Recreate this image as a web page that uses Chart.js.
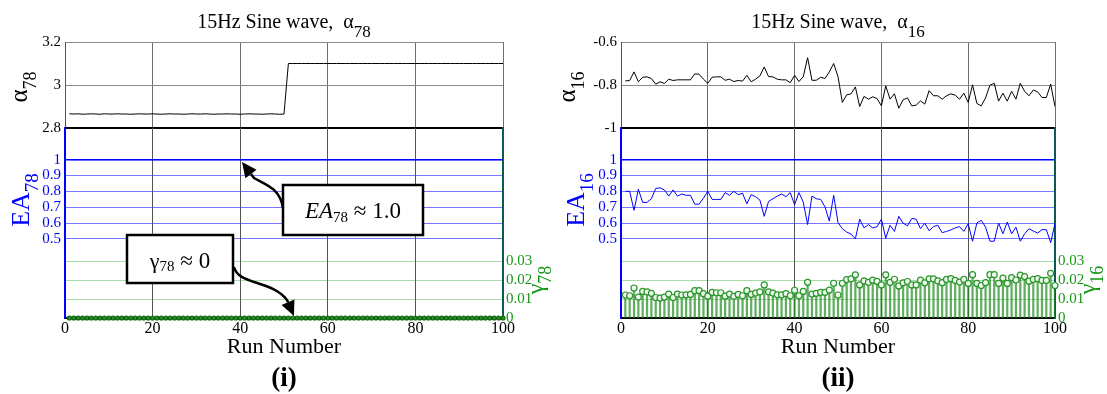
<!DOCTYPE html>
<html>
<head>
<meta charset="utf-8">
<title>15Hz Sine wave</title>
<script src="https://cdn.jsdelivr.net/npm/chart.js@4.4.0/dist/chart.umd.min.js"></script>
<style>
  body { margin: 0; background: #fff; }
  #wrap { position: relative; width: 1107px; height: 394px; overflow: hidden; }
  canvas { position: absolute; }
</style>
</head>
<body>
<div id="wrap">
  <canvas id="topL" width="560" height="140" style="left:0px;top:0px"></canvas>
  <canvas id="botL" width="560" height="274" style="left:0px;top:120px"></canvas>
  <canvas id="topR" width="547" height="140" style="left:560px;top:0px"></canvas>
  <canvas id="botR" width="547" height="274" style="left:560px;top:120px"></canvas>
</div>
<script>
'use strict';

// run numbers 1..100 (x axis)
const runs = Array.from({length: 100}, (_, i) => i + 1);
const xTicks = [0, 20, 40, 60, 80, 100];
const eaTicks = [0.5, 0.6, 0.7, 0.8, 0.9, 1];
const gammaTicks = [0, 0.01, 0.02, 0.03];

// (i) alpha_78
const alpha78Ticks = [2.8, 3, 3.2];
const alpha78 = [
  2.866, 2.865, 2.866, 2.864, 2.865, 2.866, 2.865, 2.864, 2.866, 2.865,
  2.865, 2.866, 2.865, 2.865, 2.864, 2.865, 2.866, 2.865, 2.865, 2.866,
  2.865, 2.864, 2.865, 2.866, 2.865, 2.865, 2.864, 2.865, 2.866, 2.865,
  2.865, 2.866, 2.865, 2.864, 2.865, 2.865, 2.866, 2.865, 2.865, 2.864,
  2.865, 2.866, 2.865, 2.865, 2.864, 2.865, 2.866, 2.865, 2.864, 2.865,
  3.1, 3.1, 3.1, 3.1, 3.1, 3.1, 3.1, 3.1, 3.1, 3.1,
  3.1, 3.1, 3.1, 3.1, 3.1, 3.1, 3.1, 3.1, 3.1, 3.1,
  3.1, 3.1, 3.1, 3.1, 3.1, 3.1, 3.1, 3.1, 3.1, 3.1,
  3.1, 3.1, 3.1, 3.1, 3.1, 3.1, 3.1, 3.1, 3.1, 3.1,
  3.1, 3.1, 3.1, 3.1, 3.1, 3.1, 3.1, 3.1, 3.1, 3.1
];
const ea78 = [
  1, 1, 1, 1, 1, 1, 1, 1, 1, 1,
  1, 1, 1, 1, 1, 1, 1, 1, 1, 1,
  1, 1, 1, 1, 1, 1, 1, 1, 1, 1,
  1, 1, 1, 1, 1, 1, 1, 1, 1, 1,
  1, 1, 1, 1, 1, 1, 1, 1, 1, 1,
  1, 1, 1, 1, 1, 1, 1, 1, 1, 1,
  1, 1, 1, 1, 1, 1, 1, 1, 1, 1,
  1, 1, 1, 1, 1, 1, 1, 1, 1, 1,
  1, 1, 1, 1, 1, 1, 1, 1, 1, 1,
  1, 1, 1, 1, 1, 1, 1, 1, 1, 1
];
const gamma78 = [
  0, 0, 0, 0, 0, 0, 0, 0, 0, 0,
  0, 0, 0, 0, 0, 0, 0, 0, 0, 0,
  0, 0, 0, 0, 0, 0, 0, 0, 0, 0,
  0, 0, 0, 0, 0, 0, 0, 0, 0, 0,
  0, 0, 0, 0, 0, 0, 0, 0, 0, 0,
  0, 0, 0, 0, 0, 0, 0, 0, 0, 0,
  0, 0, 0, 0, 0, 0, 0, 0, 0, 0,
  0, 0, 0, 0, 0, 0, 0, 0, 0, 0,
  0, 0, 0, 0, 0, 0, 0, 0, 0, 0,
  0, 0, 0, 0, 0, 0, 0, 0, 0, 0
];

// (ii) alpha_16
const alpha16Ticks = [-1, -0.8, -0.6];
const alpha16 = [
  -0.781, -0.779, -0.739, -0.785, -0.764, -0.762, -0.770, -0.796, -0.785, -0.793,
  -0.773, -0.779, -0.776, -0.776, -0.776, -0.776, -0.748, -0.750, -0.773, -0.792,
  -0.764, -0.762, -0.762, -0.778, -0.773, -0.784, -0.779, -0.782, -0.755, -0.785,
  -0.773, -0.758, -0.716, -0.761, -0.762, -0.773, -0.776, -0.776, -0.789, -0.755,
  -0.784, -0.761, -0.673, -0.778, -0.778, -0.764, -0.770, -0.739, -0.700, -0.761,
  -0.881, -0.846, -0.841, -0.809, -0.900, -0.853, -0.866, -0.855, -0.863, -0.897,
  -0.804, -0.866, -0.841, -0.908, -0.869, -0.860, -0.897, -0.894, -0.874, -0.889,
  -0.826, -0.850, -0.850, -0.866, -0.850, -0.841, -0.847, -0.866, -0.838, -0.881,
  -0.799, -0.886, -0.897, -0.860, -0.801, -0.792, -0.875, -0.838, -0.875, -0.829,
  -0.866, -0.792, -0.829, -0.850, -0.823, -0.832, -0.858, -0.858, -0.796, -0.900
];
const ea16 = [
  0.800, 0.800, 0.680, 0.813, 0.730, 0.730, 0.753, 0.818, 0.822, 0.809,
  0.770, 0.809, 0.770, 0.783, 0.775, 0.775, 0.719, 0.719, 0.757, 0.800,
  0.749, 0.749, 0.749, 0.792, 0.775, 0.800, 0.779, 0.788, 0.721, 0.779,
  0.766, 0.745, 0.642, 0.736, 0.753, 0.770, 0.783, 0.766, 0.792, 0.715,
  0.792, 0.732, 0.590, 0.770, 0.753, 0.749, 0.702, 0.612, 0.775, 0.603,
  0.564, 0.543, 0.530, 0.500, 0.624, 0.569, 0.590, 0.569, 0.577, 0.624,
  0.504, 0.586, 0.547, 0.642, 0.599, 0.582, 0.629, 0.624, 0.564, 0.599,
  0.551, 0.577, 0.586, 0.539, 0.547, 0.556, 0.569, 0.577, 0.547, 0.596,
  0.485, 0.600, 0.617, 0.574, 0.485, 0.485, 0.600, 0.532, 0.606, 0.532,
  0.574, 0.485, 0.532, 0.564, 0.549, 0.536, 0.558, 0.558, 0.476, 0.596
];
const gamma16 = [
  0.0121, 0.0117, 0.0158, 0.0110, 0.0140, 0.0137, 0.0130, 0.0108, 0.0105, 0.0110,
  0.0126, 0.0108, 0.0126, 0.0121, 0.0122, 0.0124, 0.0144, 0.0144, 0.0128, 0.0115,
  0.0135, 0.0133, 0.0133, 0.0115, 0.0126, 0.0114, 0.0124, 0.0117, 0.0144, 0.0124,
  0.0131, 0.0137, 0.0174, 0.0138, 0.0131, 0.0122, 0.0122, 0.0128, 0.0117, 0.0146,
  0.0117, 0.0140, 0.0188, 0.0126, 0.0130, 0.0135, 0.0135, 0.0147, 0.0183, 0.0121,
  0.0183, 0.0202, 0.0206, 0.0227, 0.0174, 0.0195, 0.0188, 0.0199, 0.0193, 0.0174,
  0.0227, 0.0188, 0.0204, 0.0169, 0.0185, 0.0192, 0.0174, 0.0174, 0.0199, 0.0185,
  0.0206, 0.0206, 0.0195, 0.0186, 0.0203, 0.0207, 0.0198, 0.0189, 0.0203, 0.0182,
  0.0228, 0.0182, 0.0171, 0.0186, 0.0228, 0.0228, 0.0182, 0.0210, 0.0182, 0.0212,
  0.0200, 0.0226, 0.0218, 0.0194, 0.0203, 0.0207, 0.0198, 0.0198, 0.0235, 0.0171
];

const SERIF = '"Liberation Serif", "Times New Roman", serif';
Chart.defaults.font.family = SERIF;

const pts = (ys) => runs.map((r, i) => ({x: r, y: ys[i]}));
const fixTicks = (vals) => (s) => { s.ticks = vals.map(v => ({value: v})); };
const fmt = (v) => String(+Number(v).toFixed(3));

// text with subscripts: parts = [{t, size, dy, italic, bold}]
function rich(ctx, parts, x, y, rot, color) {
  ctx.save();
  ctx.translate(x, y);
  if (rot) ctx.rotate(rot);
  ctx.textBaseline = 'alphabetic';
  ctx.textAlign = 'left';
  ctx.fillStyle = color || '#000';
  const font = p => (p.italic ? 'italic ' : '') + (p.bold ? 'bold ' : '') + p.size + 'px ' + SERIF;
  let w = 0;
  const ws = parts.map(p => { ctx.font = font(p); const m = ctx.measureText(p.t).width; w += m; return m; });
  let cx = -w / 2;
  parts.forEach((p, i) => { ctx.font = font(p); ctx.fillText(p.t, cx, p.dy || 0); cx += ws[i]; });
  ctx.restore();
}

function arrow(ctx, a, tip) {
  ctx.beginPath();
  ctx.moveTo(a[0][0], a[0][1]);
  ctx.bezierCurveTo(a[1][0], a[1][1], a[2][0], a[2][1], a[3][0], a[3][1]);
  const dx = tip[0] - a[3][0], dy = tip[1] - a[3][1];
  const d = Math.hypot(dx, dy), ux = dx / d, uy = dy / d;
  const bx = tip[0] - ux * 15, by = tip[1] - uy * 15;
  ctx.lineTo(bx, by);
  ctx.stroke();
  ctx.beginPath();
  ctx.moveTo(tip[0], tip[1]);
  ctx.lineTo(bx - uy * 7, by + ux * 7);
  ctx.lineTo(bx + uy * 7, by - ux * 7);
  ctx.closePath();
  ctx.fill();
}

function makePanel(o) {
  const topText = {
    id: 'topText',
    afterDraw(chart) {
      const ctx = chart.ctx, ca = chart.chartArea;
      const cx = (ca.left + ca.right) / 2;
      rich(ctx, [{t: '15Hz Sine wave,  \u03b1', size: 20}, {t: o.sub, size: 17, dy: 9}], cx, 28, 0);
      rich(ctx, [{t: '\u03b1', size: 25}, {t: o.sub, size: 18, dy: 9}], ca.left - o.alphaDx, (ca.top + ca.bottom) / 2 + 2, -Math.PI / 2);
    }
  };

  new Chart(document.getElementById(o.topId), {
    type: 'line',
    data: {datasets: [{data: pts(o.alpha), borderColor: '#000', borderWidth: 1, pointRadius: 0}]},
    options: {
      responsive: false, animation: false, events: [],
      layout: {padding: {left: 0, right: o.rightW, top: 42, bottom: 12}},
      plugins: {legend: {display: false}, tooltip: {enabled: false}},
      scales: {
        x: {
          type: 'linear', min: 0, max: 100, afterBuildTicks: fixTicks(xTicks),
          ticks: {display: false},
          grid: {color: '#6e6e6e', drawTicks: false},
          border: {color: '#000', width: 2},
          afterFit: s => { s.height = 0; s.paddingLeft = 0; s.paddingRight = 0; }
        },
        y: {
          min: o.alphaTicks[0], max: o.alphaTicks[2], afterBuildTicks: fixTicks(o.alphaTicks),
          ticks: {color: '#000', font: {size: 15}, padding: 4, callback: fmt},
          grid: {color: '#8a8a8a', drawTicks: false},
          border: {color: '#555', width: 1},
          afterFit: s => { s.width = o.leftW; s.paddingTop = 0; s.paddingBottom = 0; }
        }
      }
    },
    plugins: [topText]
  });

  const botText = {
    id: 'botText',
    afterDraw(chart) {
      const ctx = chart.ctx, ca = chart.chartArea;
      const cx = (ca.left + ca.right) / 2;
      rich(ctx, [{t: 'EA', size: 26}, {t: o.sub, size: 19, dy: 9}], ca.left - o.eaDx, 80, -Math.PI / 2, '#0000ff');
      rich(ctx, [{t: '\u03b3', size: 24}, {t: o.sub, size: 18, dy: 8}], ca.right + o.gDx, 160, -Math.PI / 2, '#159615');
      rich(ctx, [{t: 'Run Number', size: 22}], cx, 233, 0);
      rich(ctx, [{t: o.label, size: 27, bold: true}], cx, 266, 0);
      if (!o.notes) return;
      // call-out boxes, placed relative to the plot area
      ctx.save();
      ctx.translate(ca.left, ca.top);
      ctx.strokeStyle = '#000';
      ctx.lineWidth = 2.5;
      ctx.fillStyle = '#fff';
      ctx.fillRect(218, 57, 140, 50);
      ctx.strokeRect(218, 57, 140, 50);
      ctx.fillRect(62, 107, 106, 48);
      ctx.strokeRect(62, 107, 106, 48);
      ctx.fillStyle = '#000';
      arrow(ctx, [[218, 80], [215, 60], [201, 57], [189, 50]], [177, 34]);
      arrow(ctx, [[169, 139], [173, 157], [207, 152], [222, 172]], [229, 188]);
      ctx.restore();
      rich(ctx, [{t: 'EA', size: 23, italic: true}, {t: '78', size: 15, dy: 4}, {t: ' \u2248 1.0', size: 23}], ca.left + 288, ca.top + 90, 0);
      rich(ctx, [{t: '\u03b3', size: 22}, {t: '78', size: 15, dy: 3}, {t: ' \u2248 0', size: 23}], ca.left + 115, ca.top + 140, 0);
    }
  };

  new Chart(document.getElementById(o.botId), {
    type: 'line',
    data: {datasets: [
      {type: 'line', data: pts(o.ea), yAxisID: 'yE', borderColor: '#0000ff', borderWidth: 1, pointRadius: 0, order: 1},
      {type: 'line', data: pts(o.gamma), yAxisID: 'yG', showLine: false, pointRadius: o.markR,
        pointBorderColor: o.markEdge, pointBackgroundColor: o.markFill, pointBorderWidth: 1.2, clip: false, order: 0},
      {type: 'bar', data: pts(o.gamma), yAxisID: 'yG', backgroundColor: 'rgba(30,140,30,0.7)', barThickness: 1.6, order: 2}
    ]},
    options: {
      responsive: false, animation: false, events: [],
      layout: {padding: {left: 0, right: 0, top: 8, bottom: 0}},
      plugins: {legend: {display: false}, tooltip: {enabled: false}},
      scales: {
        x: {
          type: 'linear', min: 0, max: 100, offset: false, afterBuildTicks: fixTicks(xTicks),
          ticks: {color: '#000', font: {size: 16}, padding: 1, maxRotation: 0},
          grid: {color: '#555', drawTicks: false, offset: false},
          border: {color: '#000', width: 2},
          afterFit: s => { s.height = 76; s.paddingLeft = 0; s.paddingRight = 0; }
        },
        yE: {
          position: 'left', min: 0, max: 1.2, afterBuildTicks: fixTicks(eaTicks),
          ticks: {color: '#0000ff', font: {size: 15}, padding: 4, callback: fmt},
          grid: {
            color: c => c.tick && c.tick.value === 1 ? '#0000ff' : 'rgba(60,60,255,0.7)',
            lineWidth: c => c.tick && c.tick.value === 1 ? 1.6 : 1,
            drawTicks: false
          },
          border: {color: '#0000ff', width: 2},
          afterFit: s => { s.width = o.leftW; s.paddingTop = 0; s.paddingBottom = 0; }
        },
        yG: {
          position: 'right', min: 0, max: 0.1, afterBuildTicks: fixTicks(gammaTicks),
          ticks: {color: '#159615', font: {size: 15}, padding: 3, callback: fmt},
          grid: {color: 'rgba(0,150,0,0.35)', drawTicks: false},
          border: {color: '#0b5a55', width: 2},
          afterFit: s => { s.width = o.rightW; s.paddingTop = 0; s.paddingBottom = 0; }
        }
      }
    },
    plugins: [botText]
  });
}

makePanel({
  topId: 'topL', botId: 'botL', leftW: 65, rightW: 57, sub: '78', label: '(i)',
  alpha: alpha78, alphaTicks: alpha78Ticks, ea: ea78, gamma: gamma78,
  alphaDx: 38, eaDx: 36, gDx: 40, notes: true,
  markR: 2, markEdge: '#0a640a', markFill: '#2e8b2e'
});
makePanel({
  topId: 'topR', botId: 'botR', leftW: 61, rightW: 52, sub: '16', label: '(ii)',
  alpha: alpha16, alphaTicks: alpha16Ticks, ea: ea16, gamma: gamma16,
  alphaDx: 46, eaDx: 37, gDx: 40, notes: false,
  markR: 3, markEdge: '#2a962a', markFill: '#eef8ee'
});
</script>
</body>
</html>
